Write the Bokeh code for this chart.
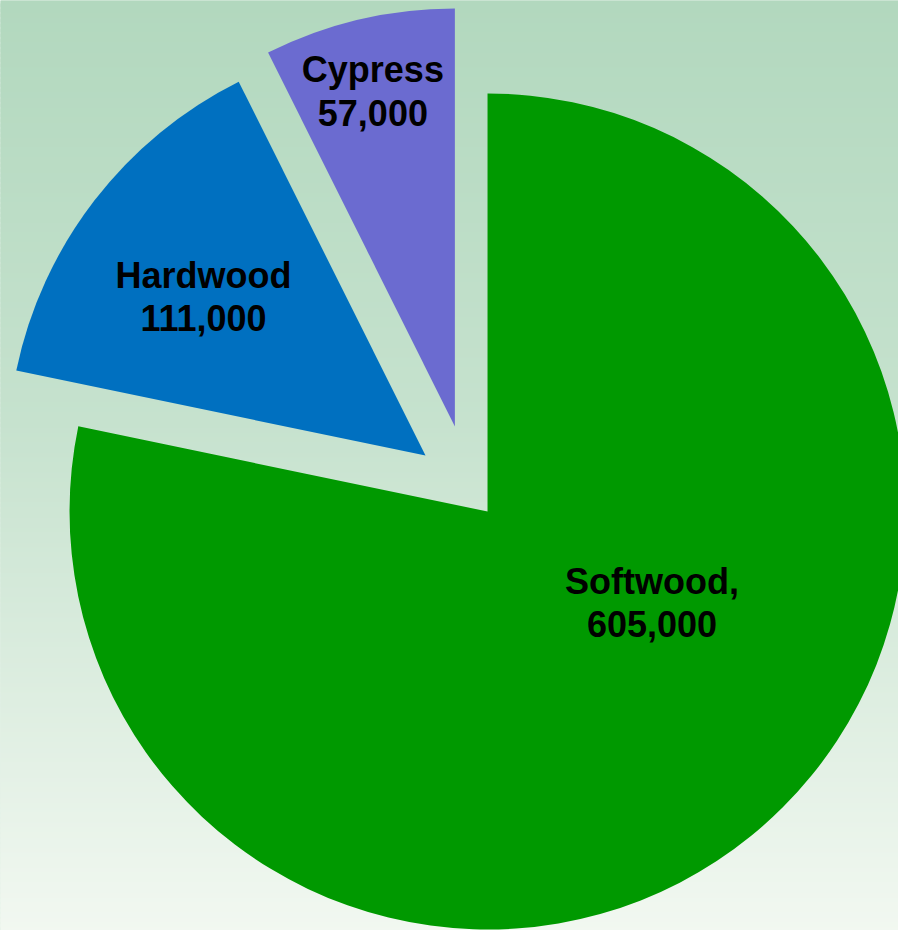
import math
from bokeh.plotting import figure
from bokeh.models import ColumnDataSource
from bokeh.core.properties import value
from bokeh.embed import file_html
from bokeh.resources import INLINE

# ---- data ----
categories = ["Softwood", "Hardwood", "Cypress"]
volumes = [605000, 111000, 57000]
label_line1 = ["Softwood,", "Hardwood", "Cypress"]
label_line2 = ["605,000", "111,000", "57,000"]

# ---- style ----
colors = ["#009900", "#0070C0", "#6B6BD0"]
W, H = 898, 930
center_x, center_y = 469.3, H - 489.2
radius = 418
explode = [28.1, 55.9, 65.0]
label_dist = [188, 273, 345]
label_ang = [-29.0, 144.4, 103.75]
line_gap = 43
font_size = "36px"

p = figure(width=W, height=H, x_range=(0, W), y_range=(0, H),
           min_border=0, toolbar_location=None, output_backend="svg")
p.axis.visible = False
p.grid.visible = False
p.outline_line_color = None
p.background_fill_color = "#c6e2ce"
p.border_fill_color = "#c6e2ce"

# background gradient (top -> bottom)
stops = [(0.0, (178, 216, 190)), (0.45, (198, 226, 206)), (1.0, (242, 248, 241))]
def grad(t):
    for (t0, c0), (t1, c1) in zip(stops[:-1], stops[1:]):
        if t0 <= t <= t1:
            u = (t - t0) / (t1 - t0)
            return "#%02x%02x%02x" % tuple(int(round(a + (b - a) * u)) for a, b in zip(c0, c1))
    return "#%02x%02x%02x" % stops[-1][1]
band = 5
tops, bottoms, bcolors = [], [], []
for k in range(0, H, band):
    t = (k + band / 2) / H
    tops.append(H - k + 2)
    bottoms.append(H - k - band - 2)
    bcolors.append(grad(t))
# draw from bottom to top so overlaps stay consistent
p.quad(left=-5, right=W + 5, top=tops[::-1], bottom=bottoms[::-1],
       fill_color=bcolors[::-1], line_color=None)

# wedges
total = sum(volumes)
bounds = [90.0]
for v in volumes:
    bounds.append(bounds[-1] - v / total * 360.0)
xs, ys, starts, ends = [], [], [], []
tx, ty1, ty2 = [], [], []
for i in range(len(volumes)):
    a_end = bounds[i]
    a_start = bounds[i + 1]
    mid = math.radians((a_start + a_end) / 2)
    ax = center_x + explode[i] * math.cos(mid)
    ay = center_y + explode[i] * math.sin(mid)
    xs.append(ax); ys.append(ay)
    starts.append(math.radians(a_start)); ends.append(math.radians(a_end))
    la = math.radians(label_ang[i])
    lx = ax + label_dist[i] * math.cos(la)
    ly = ay + label_dist[i] * math.sin(la)
    tx.append(lx); ty1.append(ly + line_gap / 2); ty2.append(ly - line_gap / 2)

src = ColumnDataSource(dict(x=xs, y=ys, start=starts, end=ends, color=colors, cat=categories))
p.wedge(x="x", y="y", radius=radius, start_angle="start", end_angle="end",
        fill_color="color", line_color=None, source=src)

for yy, txt in ((ty1, label_line1), (ty2, label_line2)):
    p.text(x=tx, y=yy, text=txt, text_align="center", text_baseline="middle",
           text_font=value("Liberation Sans"), text_font_style="bold",
           text_font_size=font_size, text_color="#000000")

open("out.html", "w").write(file_html(p, INLINE))
